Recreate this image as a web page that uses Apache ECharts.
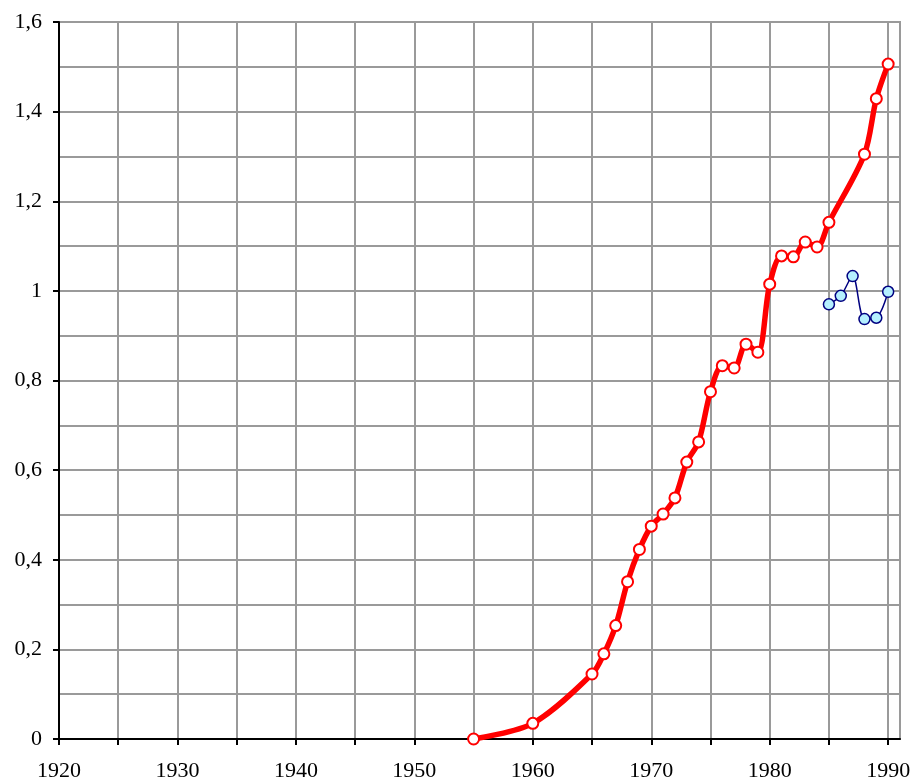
<!DOCTYPE html>
<html>
<head>
<meta charset="utf-8">
<script src="https://cdn.jsdelivr.net/npm/echarts@6/dist/echarts.min.js"></script>
<style>html,body{margin:0;padding:0;background:#fff}#c{width:914px;height:782px}</style>
</head>
<body>
<div id="c"></div>
<script>
const redYears = [1955,1960,1965,1966,1967,1968,1969,1970,1971,1972,1973,1974,1975,1976,1977,1978,1979,1980,1981,1982,1983,1984,1985,1988,1989,1990];
const redValues = [0.0,0.035,0.145,0.19,0.253,0.351,0.423,0.475,0.502,0.538,0.618,0.663,0.775,0.833,0.828,0.881,0.863,1.015,1.078,1.076,1.109,1.098,1.153,1.305,1.429,1.506];
const blueYears = [1985,1986,1987,1988,1989,1990];
const blueValues = [0.970,0.989,1.033,0.937,0.940,0.998];
const xTicks = [1920,1925,1930,1935,1940,1945,1950,1955,1960,1965,1970,1975,1980,1985,1990];
const xLabels = [1920,1930,1940,1950,1960,1970,1980,1990];
const yTicks = [0,0.2,0.4,0.6,0.8,1.0,1.2,1.4,1.6];

const chart = echarts.init(document.getElementById('c'), null, {renderer:'canvas'});
const font = 'Liberation Serif';
chart.setOption({
  animation:false,
  backgroundColor:'#fff',
  grid:{left:59,right:14,top:22,bottom:41,show:true,borderColor:'#9a9a9a',borderWidth:2},
  xAxis:{
    type:'value',min:1920,max:1991,interval:5,
    axisLine:{show:true,onZero:false,lineStyle:{color:'#000',width:2}},
    axisTick:{show:true,length:6,inside:false,customValues:xTicks,lineStyle:{color:'#000',width:2}},
    axisLabel:{customValues:xLabels,margin:21,color:'#000',fontFamily:font,fontSize:22,
      formatter:v=>String(v)},
    splitLine:{show:true,lineStyle:{color:'#9a9a9a',width:2}}
  },
  yAxis:{
    type:'value',min:0,max:1.6,interval:0.2,
    axisLine:{show:true,onZero:false,lineStyle:{color:'#000',width:2}},
    axisTick:{show:true,length:6,lineStyle:{color:'#000',width:2}},
    axisLabel:{customValues:yTicks,margin:17,color:'#000',fontFamily:font,fontSize:22,
      formatter:v=>String(Math.round(v*10)/10).replace('.',',')},
    splitLine:{show:true,lineStyle:{color:'#9a9a9a',width:2}},
    minorTick:{show:false,splitNumber:2},
    minorSplitLine:{show:true,lineStyle:{color:'#9a9a9a',width:2}}
  },
  series:[
    {type:'line',data:redYears.map((y,i)=>[y,redValues[i]]),smooth:0.3,
      symbol:'circle',symbolSize:11,showAllSymbol:true,
      lineStyle:{color:'#ff0000',width:5.5},
      itemStyle:{color:'#fff',borderColor:'#ff0000',borderWidth:2},z:3},
    {type:'line',data:blueYears.map((y,i)=>[y,blueValues[i]]),smooth:0.3,
      symbol:'circle',symbolSize:11,showAllSymbol:true,
      lineStyle:{color:'#000080',width:1.5},
      itemStyle:{color:'#b5f0ff',borderColor:'#000080',borderWidth:1.5},z:4}
  ]
});
</script>
</body>
</html>
